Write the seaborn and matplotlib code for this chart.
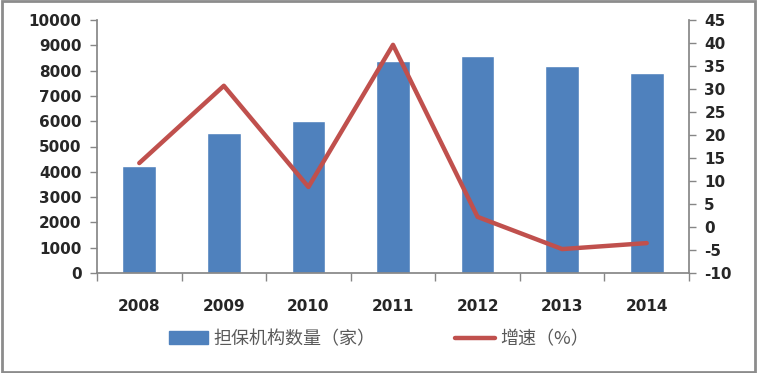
import matplotlib
matplotlib.use("Agg")
import matplotlib.pyplot as plt
import seaborn as sns
import numpy as np
import pandas as pd
from matplotlib.patches import Rectangle
from matplotlib.lines import Line2D

years = ["2008", "2009", "2010", "2011", "2012", "2013", "2014"]
counts = [4230, 5530, 6010, 8380, 8580, 8180, 7900]
growth = [13.9, 30.7, 8.7, 39.6, 2.2, -4.8, -3.5]
bar_label = "担保机构数量（家）"
line_label = "增速（%）"

sns.set_theme(style="white")
plt.rcParams['font.family'] = ['DejaVu Sans', 'Noto Sans CJK SC']
plt.rcParams['axes.unicode_minus'] = False

df = pd.DataFrame({"year": years, "count": counts, "growth": growth})

fig = plt.figure(figsize=(7.58, 3.73), dpi=100)
ax = fig.add_axes([97/758, 1 - 273/373, (689-97)/758, (273-20)/373])

sns.barplot(data=df, x="year", y="count", color="#4F81BD", saturation=1,
            width=0.4, ax=ax)
ax.set_ylim(0, 10000)
ax.set_xlim(-0.5, 6.5)
ax.set_yticks(np.arange(0, 10001, 1000))
ax.set_xlabel("")
ax.set_ylabel("")

ax2 = ax.twinx()
sns.lineplot(data=df, x=np.arange(len(years)), y="growth", color="#C0504D",
             linewidth=3.2, ax=ax2, legend=False)
ax2.set_ylim(-10, 45)
ax2.set_yticks(np.arange(-10, 46, 5))
ax2.set_ylabel("")

grey = "#868686"
for a in (ax, ax2):
    for s in a.spines.values():
        s.set_visible(False)
ax.spines["left"].set_visible(True)
ax.spines["left"].set_color(grey)
ax.spines["bottom"].set_visible(True)
ax.spines["bottom"].set_color(grey)
ax2.spines["right"].set_visible(True)
ax2.spines["right"].set_color(grey)

ax.tick_params(axis="y", direction="out", length=5, color=grey, width=1,
               labelsize=11, pad=6, left=True)
ax2.tick_params(axis="y", direction="out", length=5, color=grey, width=1,
                labelsize=11, pad=6, right=True)
for lab in ax.get_yticklabels() + ax2.get_yticklabels():
    lab.set_fontweight("bold")

ax.set_xticks(np.arange(len(years)))
ax.set_xticklabels(years, fontsize=11, fontweight="bold")
ax.tick_params(axis="x", length=0, pad=19)
ax.set_xticks(np.arange(-0.5, 7, 1), minor=True)
ax.tick_params(axis="x", which="minor", direction="out", length=6,
               color=grey, width=1, bottom=True)

handles = [Rectangle((0, 0), 1, 1, color="#4F81BD"),
           Line2D([0], [0], color="#C0504D", linewidth=3.2)]
leg = fig.legend(handles, [bar_label, line_label], loc="center",
                 bbox_to_anchor=(0.5, 1 - 339/373), ncol=2, frameon=False,
                 prop={"family": ["Noto Sans CJK SC", "DejaVu Sans"], "size": 13},
                 handlelength=2.2, columnspacing=4.4, handletextpad=0.3)
for t in leg.get_texts():
    t.set_color("#595959")

fig.patches.append(Rectangle((0.002, 0.003), 0.994, 0.993, transform=fig.transFigure,
                             fill=False, edgecolor="#8C8C8C", linewidth=2))

fig.savefig("out.png", dpi=100)
